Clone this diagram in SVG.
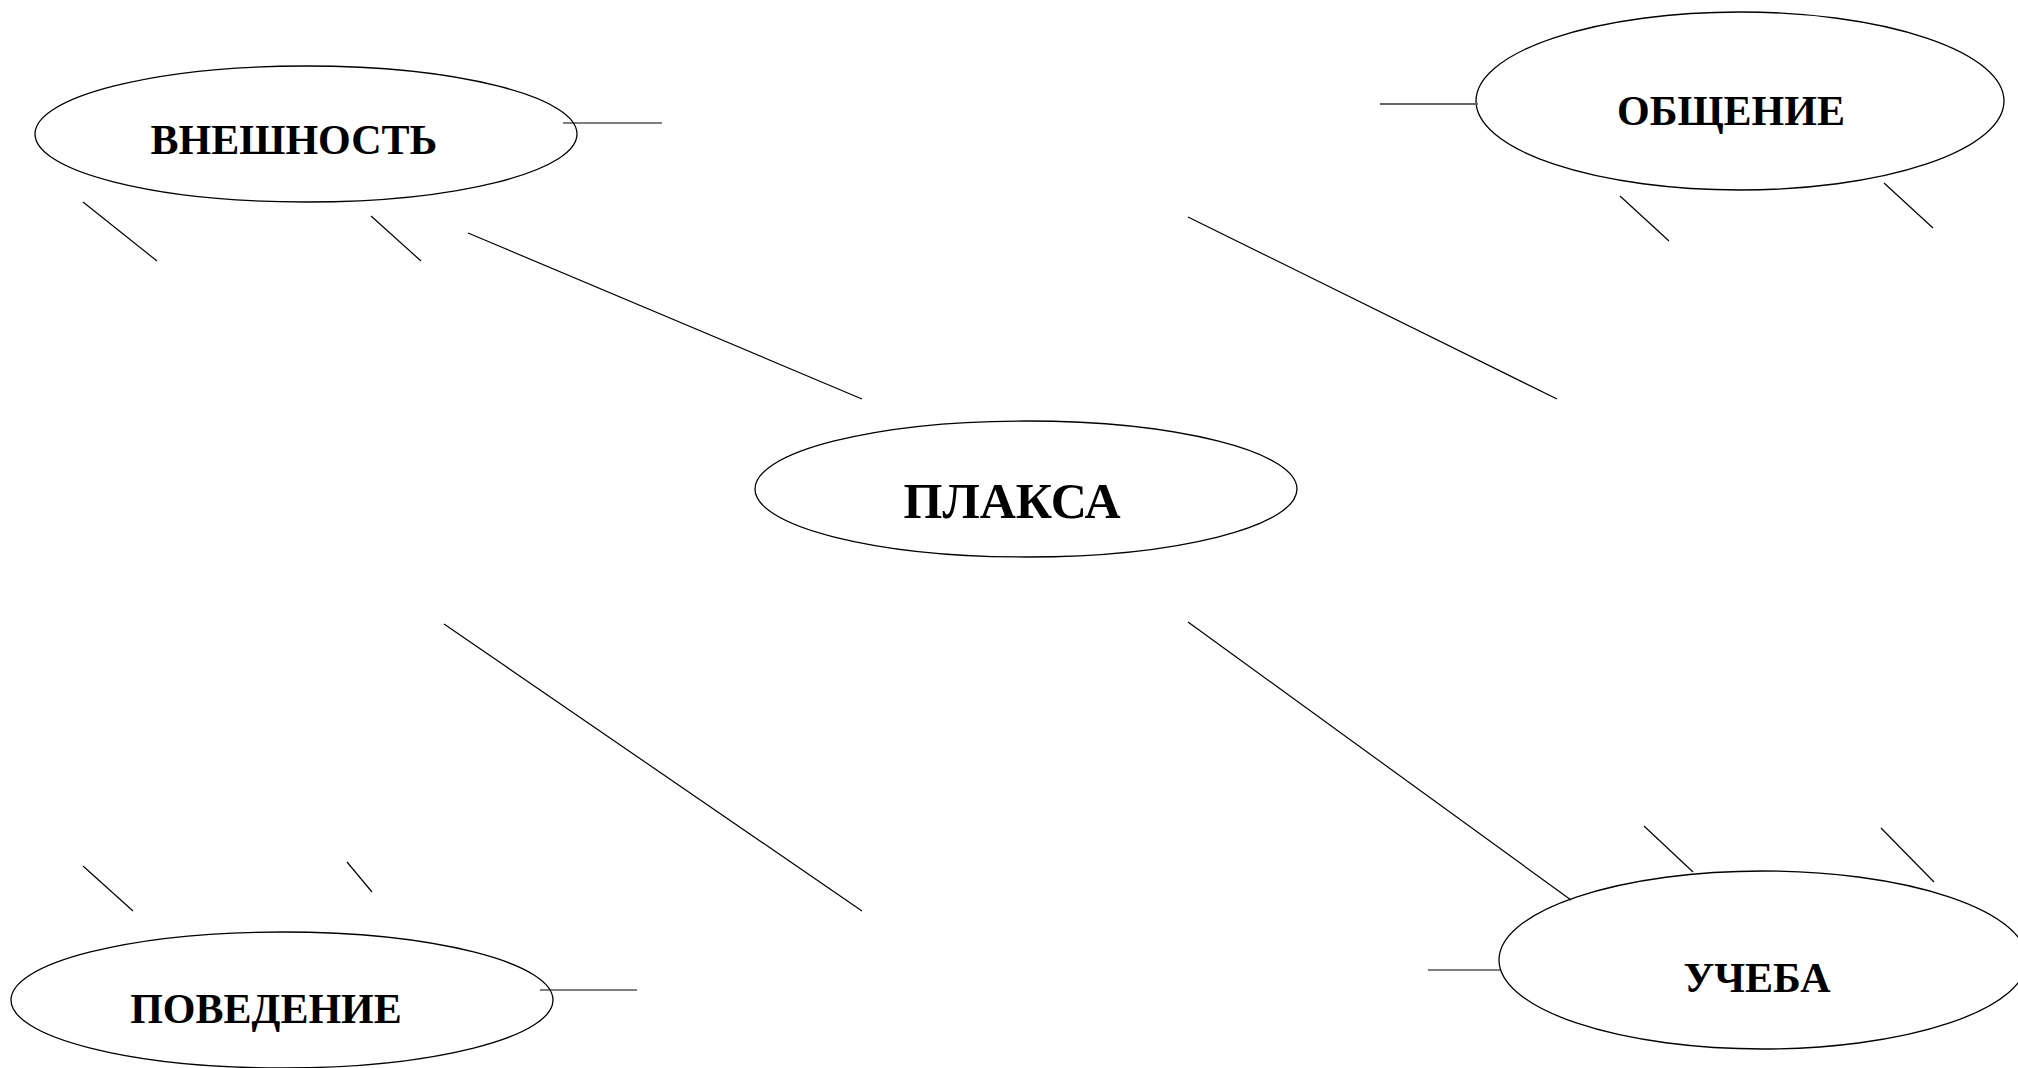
<svg xmlns="http://www.w3.org/2000/svg" width="2018" height="1068" viewBox="0 0 2018 1068">
<style>
.node ellipse { fill: #ffffff; stroke: #000000; stroke-width: 1.3; }
.node text { font-family: "Liberation Serif", "Times New Roman", serif; font-weight: bold; font-size: 42px; text-anchor: middle; fill: #000000; }
.conn line { stroke: #000000; stroke-width: 1.2; }
</style>
<rect x="0" y="0" width="2018" height="1068" fill="#ffffff"/>
<g id="node-vneshnost" class="node">
  <ellipse cx="306" cy="134" rx="271" ry="68"/>
  <text x="294" y="154">ВНЕШНОСТЬ</text>
</g>
<g id="node-obshchenie" class="node">
  <ellipse cx="1740" cy="101" rx="264" ry="89"/>
  <text x="1731" y="125">ОБЩЕНИЕ</text>
</g>
<g id="node-plaksa" class="node">
  <ellipse cx="1026" cy="489" rx="271" ry="68"/>
  <text x="1012" y="518" style="font-size:50px">ПЛАКСА</text>
</g>
<g id="node-povedenie" class="node">
  <ellipse cx="282" cy="1000" rx="271" ry="68"/>
  <text x="266" y="1023">ПОВЕДЕНИЕ</text>
</g>
<g id="node-ucheba" class="node">
  <ellipse cx="1763" cy="960" rx="264" ry="89"/>
  <text x="1757" y="992">УЧЕБА</text>
</g>
<g id="connectors" class="conn">
  <line x1="468" y1="233" x2="862" y2="399"/>
  <line x1="1188" y1="217" x2="1557" y2="399"/>
  <line x1="444" y1="624" x2="862" y2="911"/>
  <line x1="1188" y1="622" x2="1571" y2="900"/>
  <line x1="563" y1="123" x2="662" y2="123"/>
  <line x1="83" y1="202" x2="157" y2="261"/>
  <line x1="371" y1="216" x2="421" y2="261"/>
  <line x1="1380" y1="104" x2="1478" y2="104" style="stroke:#666666;stroke-width:1.8"/>
  <line x1="1620" y1="196" x2="1669" y2="241"/>
  <line x1="1884" y1="183" x2="1933" y2="228"/>
  <line x1="540" y1="990" x2="637" y2="990"/>
  <line x1="83" y1="866" x2="133" y2="911"/>
  <line x1="347" y1="862" x2="372" y2="892"/>
  <line x1="1428" y1="970" x2="1500" y2="970"/>
  <line x1="1644" y1="826" x2="1693" y2="872"/>
  <line x1="1881" y1="828" x2="1934" y2="882"/>
</g>
</svg>
